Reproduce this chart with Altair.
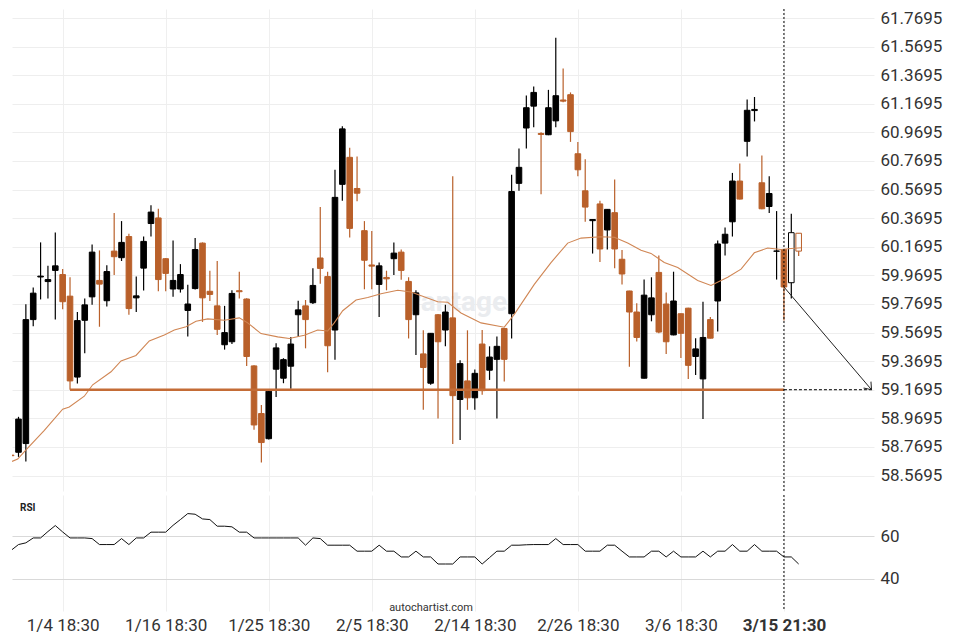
import altair as alt
import pandas as pd

# ---------------- data ----------------
candle_idx = list(range(-1, 107))
opens = [58.712, 58.732, 58.793, 59.660, 59.958, 59.926, 60.004, 59.975, 59.824, 59.258,
         59.655, 59.819, 59.934, 59.792, 60.139, 60.093, 60.241, 59.812, 60.020, 60.332,
         60.371, 60.086, 59.874, 59.874, 59.724, 59.877, 60.195, 59.858, 59.756, 59.484,
         59.505, 59.862, 59.804, 59.336, 59.003, 58.827, 59.313, 59.250, 59.334, 59.694,
         59.756, 59.778, 60.091, 59.961, 59.587, 60.606, 60.795, 60.577, 60.282, 60.042,
         59.906, 59.955, 60.086, 60.132, 59.927, 59.694, 59.420, 59.215, 59.694, 59.587,
         59.672, 59.101, 59.231, 59.113, 59.489, 59.306, 59.382, 59.598, 59.701, 60.613,
         61.000, 61.153, 60.962, 60.953, 61.050, 61.196, 61.233, 60.820, 60.561, 60.352,
         60.469, 60.287, 60.408, 60.082, 59.860, 59.713, 59.250, 59.694, 59.990, 59.769,
         59.553, 59.701, 59.740, 59.402, 59.245, 59.660, 59.790, 60.195, 60.344, 60.629,
         60.907, 61.122, 60.617, 60.451, 60.138, 60.150, 59.918, 60.264]
highs = [58.715, 58.980, 59.767, 59.884, 60.200, 60.036, 60.269, 60.014, 59.956, 59.713,
         59.808, 60.185, 60.144, 60.041, 60.405, 60.349, 60.260, 59.961, 60.241, 60.460,
         60.435, 60.090, 60.214, 60.048, 59.904, 60.230, 60.200, 60.002, 60.070, 59.756,
         59.865, 59.995, 59.810, 59.340, 59.063, 59.162, 59.494, 59.390, 59.539, 59.792,
         59.797, 60.020, 60.447, 59.995, 60.708, 61.012, 60.862, 60.800, 60.349, 60.280,
         60.059, 60.002, 60.200, 60.150, 59.956, 59.865, 59.585, 59.566, 59.700, 59.763,
         60.663, 59.375, 59.585, 59.311, 59.587, 59.473, 59.542, 59.600, 60.674, 60.857,
         61.228, 61.290, 60.971, 61.267, 61.632, 61.416, 61.249, 60.903, 60.782, 60.362,
         60.492, 60.433, 60.640, 60.146, 59.862, 59.774, 59.940, 59.956, 60.109, 59.849,
         59.995, 59.703, 59.742, 59.530, 59.785, 59.678, 60.214, 60.305, 60.686, 60.752,
         61.199, 61.217, 60.807, 60.663, 60.419, 60.152, 60.401, 60.266]
lows = [58.705, 58.700, 58.668, 59.614, 59.801, 59.808, 59.660, 59.733, 59.170, 59.213,
        59.425, 59.763, 59.610, 59.751, 59.972, 60.070, 59.694, 59.713, 59.863, 60.241,
        59.858, 59.858, 59.819, 59.849, 59.542, 59.870, 59.644, 59.790, 59.553, 59.450,
        59.489, 59.808, 59.336, 58.889, 58.661, 58.822, 59.118, 59.215, 59.176, 59.542,
        59.459, 59.769, 59.911, 59.291, 59.380, 60.492, 60.234, 60.488, 59.872, 59.872,
        59.678, 59.865, 59.972, 59.938, 59.528, 59.413, 59.029, 59.204, 58.969, 59.473,
        58.789, 58.817, 59.029, 59.029, 59.135, 59.238, 58.969, 59.227, 59.528, 60.561,
        60.857, 61.005, 60.537, 60.950, 61.005, 61.180, 60.903, 60.663, 60.344, 60.122,
        60.063, 60.150, 60.020, 59.906, 59.330, 59.507, 59.248, 59.648, 59.564, 59.420,
        59.550, 59.391, 59.245, 59.272, 58.964, 59.528, 59.576, 60.109, 60.241, 60.500,
        60.800, 61.046, 60.432, 60.405, 59.940, 59.653, 59.808, 60.104]
closes = [58.708, 58.964, 59.660, 59.845, 59.964, 59.940, 60.036, 59.785, 59.231, 59.653,
          59.763, 60.132, 59.908, 59.996, 60.100, 60.200, 59.737, 59.826, 60.207, 60.412,
          59.940, 59.983, 59.934, 59.975, 59.769, 60.150, 59.812, 59.836, 59.592, 59.569,
          59.843, 59.855, 59.402, 58.923, 58.800, 59.159, 59.462, 59.380, 59.489, 59.728,
          59.660, 59.899, 60.018, 59.477, 60.515, 60.994, 60.298, 60.544, 60.075, 60.034,
          60.036, 59.945, 60.125, 60.004, 59.660, 59.847, 59.325, 59.564, 59.505, 59.713,
          59.128, 59.352, 59.113, 59.284, 59.163, 59.398, 59.473, 59.382, 60.556, 60.725,
          61.142, 61.249, 60.955, 61.142, 61.226, 61.188, 60.975, 60.708, 60.447, 60.360,
          60.154, 60.431, 60.154, 59.979, 59.713, 59.535, 59.831, 59.812, 59.573, 59.505,
          59.790, 59.564, 59.340, 59.455, 59.535, 59.530, 60.189, 60.257, 60.629, 60.503,
          61.124, 61.130, 60.435, 60.542, 60.140, 59.888, 60.268, 60.139]
rsi_vals = [53.4, 56.1, 56.9, 59.2, 59.2, 62.2, 65.0, 62.0, 59.2, 59.2,
            59.2, 58.9, 56.1, 56.1, 56.1, 58.9, 56.1, 59.2, 59.2, 61.9,
            61.9, 61.9, 65.1, 67.8, 70.6, 70.3, 68.1, 67.8, 64.7, 64.7,
            64.4, 61.9, 61.9, 59.2, 59.2, 59.2, 59.2, 59.2, 59.2, 59.2,
            55.8, 59.2, 58.9, 55.8, 55.8, 55.8, 55.8, 53.0, 53.0, 53.0,
            55.8, 53.0, 53.0, 50.3, 50.3, 53.0, 50.3, 50.3, 47.0, 47.0,
            47.0, 50.3, 50.3, 50.3, 47.0, 50.0, 53.0, 53.0, 55.8, 55.8,
            56.0, 56.1, 56.1, 56.1, 58.9, 56.1, 56.1, 56.1, 53.0, 53.0,
            53.0, 55.8, 55.8, 53.0, 50.3, 50.3, 50.3, 53.0, 53.0, 50.3,
            53.0, 50.3, 50.3, 50.3, 53.0, 50.3, 53.0, 53.0, 56.1, 53.0,
            53.0, 56.1, 53.0, 53.0, 53.0, 50.3, 50.3, 47.0]
ma_idx = [-0.88, -0.11, 1.02, 3.51, 6.0, 6.9, 8.94, 10.08, 12.57, 13.93, 15.96, 17.77,
          19.81, 21.17, 22.76, 24.12, 25.71, 27.96, 30.0, 31.14, 32.95, 35.22, 36.79,
          38.83, 40.65, 42.01, 42.9, 44.05, 45.86, 47.45, 49.25, 51.52, 53.33, 56.96,
          58.32, 60.12, 62.84, 66.0, 67.36, 70.08, 72.35, 74.62, 76.43, 79.14, 80.95,
          82.77, 84.58, 85.94, 87.74, 89.57, 92.28, 94.09, 96.36, 98.17, 99.97, 101.79,
          103.6, 104.96, 106.32]
ma_vals = [58.668, 58.684, 58.748, 58.885, 59.033, 59.049, 59.124, 59.204, 59.295, 59.371,
           59.409, 59.511, 59.553, 59.587, 59.610, 59.648, 59.665, 59.655, 59.672, 59.637,
           59.562, 59.539, 59.528, 59.550, 59.587, 59.580, 59.637, 59.722, 59.797, 59.815,
           59.841, 59.865, 59.853, 59.785, 59.781, 59.706, 59.637, 59.607, 59.697, 59.906,
           60.059, 60.195, 60.230, 60.239, 60.236, 60.195, 60.145, 60.123, 60.059, 60.024,
           59.933, 59.899, 59.956, 60.013, 60.127, 60.161, 60.150, 60.157, 60.163]
price_ticks = [58.5695, 58.7695, 58.9695, 59.1695, 59.3695, 59.5695, 59.7695, 59.9695,
               60.1695, 60.3695, 60.5695, 60.7695, 60.9695, 61.1695, 61.3695, 61.5695, 61.7695]
rsi_ticks = [40, 60]
time_idx = [6, 20, 34, 48, 62, 76, 90, 104]
time_labels = ["1/4 18:30", "1/16 18:30", "1/25 18:30", "2/5 18:30",
               "2/14 18:30", "2/26 18:30", "3/6 18:30", "3/15 21:30"]
support_level = 59.1695
support_start = 7
signal_idx = 104
live_from = 105
arrow_from = [104, 59.888]
arrow_to = [115.9, 59.1695]

# ---------------- styling ----------------
ORANGE = "#b9602a"
MA_COLOR = "#d08654"
SUPPORT = "#c46c36"
FONT = "Roboto"
W = 862
H_PRICE = 482
H_RSI = 116

xscale = alt.Scale(domain=[-0.883, 116.236], nice=False, zero=False)
yscale = alt.Scale(domain=[58.4611, 61.8325], nice=False, zero=False)
rscale = alt.Scale(domain=[25.0, 79.3], nice=False, zero=False)

label_expr = " : ".join(f"datum.value == {k} ? '{t}'" for k, t in zip(time_idx, time_labels)) + " : ''"

x_grid_axis = alt.Axis(values=time_idx, tickCount=30, labels=False, ticks=False, domain=False,
                       grid=True, gridColor="#efefef", title=None)
x_label_axis = alt.Axis(values=time_idx, tickCount=30, labelExpr=label_expr, ticks=False,
                        domain=False, grid=True, gridColor="#efefef", title=None,
                        labelFontSize=17, labelColor="#333333", labelPadding=6,
                        labelOverlap=False, labelFont=FONT,
                        labelFontWeight={"condition": {"test": f"datum.value == {signal_idx}",
                                                       "value": "bold"},
                                         "value": "normal"})
price_axis = alt.Axis(orient="right", values=price_ticks, tickCount=40, format=".4f",
                      grid=True, gridColor="#eeeeee", domain=False, ticks=False,
                      labelFontSize=17, labelColor="#333333", labelPadding=6, title=None,
                      labelFont=FONT, labelOverlap=False)
rsi_axis = alt.Axis(orient="right", values=rsi_ticks, tickCount=10, grid=True,
                    gridColor="#d9d9d9", domain=False, ticks=False, labelFontSize=17,
                    labelColor="#333333", labelPadding=6, title=None, labelFont=FONT,
                    labelOverlap=False)

df = pd.DataFrame({"i": candle_idx, "open": opens, "high": highs, "low": lows, "close": closes})
kinds = ["up", "down", "live_up", "live_down"]
stroke_scale = alt.Scale(domain=kinds, range=["#000000", ORANGE, "#000000", ORANGE])
fill_scale = alt.Scale(domain=kinds, range=["#000000", ORANGE, "#ffffff", "#ffffff"])

base = alt.Chart(df).transform_calculate(
    kind=f"datum.i >= {live_from} ? (datum.close >= datum.open ? 'live_up' : 'live_down') : (datum.close >= datum.open ? 'up' : 'down')",
    lo="min(datum.open, datum.close)",
    hi="max(datum.open, datum.close)",
    xl="datum.i - 0.38",
    xr="datum.i + 0.38",
)

wicks = base.mark_rule(strokeWidth=1.2, clip=True).encode(
    x=alt.X("i:Q", scale=xscale, axis=x_grid_axis),
    y=alt.Y("low:Q", scale=yscale, axis=price_axis),
    y2="high:Q",
    color=alt.Color("kind:N", scale=stroke_scale, legend=None),
)
bodies = base.mark_rect(strokeWidth=1, clip=True).encode(
    x=alt.X("xl:Q", scale=xscale, title=None),
    x2="xr:Q",
    y=alt.Y("lo:Q", scale=yscale, title=None),
    y2="hi:Q",
    fill=alt.Fill("kind:N", scale=fill_scale, legend=None),
    stroke=alt.Stroke("kind:N", scale=stroke_scale, legend=None),
)

ma = alt.Chart(pd.DataFrame({"i": ma_idx, "ma": ma_vals})).mark_line(
    color=MA_COLOR, strokeWidth=1.1, clip=True).encode(
    x=alt.X("i:Q", scale=xscale, title=None),
    y=alt.Y("ma:Q", scale=yscale, title=None),
)

lvl = pd.DataFrame({"x0": [support_start], "x1": [signal_idx], "y": [support_level]})
support = alt.Chart(lvl).mark_rule(color=SUPPORT, strokeWidth=2.6).encode(
    x=alt.X("x0:Q", scale=xscale, title=None), x2="x1:Q",
    y=alt.Y("y:Q", scale=yscale, title=None),
)
proj = pd.DataFrame({"x0": [signal_idx], "x1": [arrow_to[0]], "y": [support_level]})
projection = alt.Chart(proj).mark_rule(color="#000000", strokeWidth=1, strokeDash=[3, 2]).encode(
    x=alt.X("x0:Q", scale=xscale, title=None), x2="x1:Q",
    y=alt.Y("y:Q", scale=yscale, title=None),
)
arr = pd.DataFrame({"x0": [arrow_from[0]], "y0": [arrow_from[1]],
                    "x1": [arrow_to[0]], "y1": [arrow_to[1]]})
arrow_line = alt.Chart(arr).mark_rule(color="#222222", strokeWidth=1).encode(
    x=alt.X("x0:Q", scale=xscale, title=None), x2="x1:Q",
    y=alt.Y("y0:Q", scale=yscale, title=None), y2="y1:Q",
)
arrow_head = alt.Chart(arr).mark_point(
    shape="M -1 -0.75 L 0 0 L -1 0.75", filled=False, color="#222222",
    strokeWidth=1, size=170, angle=49, opacity=1).encode(
    x=alt.X("x1:Q", scale=xscale, title=None),
    y=alt.Y("y1:Q", scale=yscale, title=None),
)
vline_df = pd.DataFrame({"i": [signal_idx]})
vline_p = alt.Chart(vline_df).mark_rule(color="#000000", strokeWidth=1, strokeDash=[2, 2]).encode(
    x=alt.X("i:Q", scale=xscale, title=None))

watermark = alt.Chart(pd.DataFrame({"t": ["vantage"]})).mark_text(
    font=FONT, fontSize=28, fontWeight="bold", color="#eaecef", align="center",
    baseline="middle").encode(text="t:N", x=alt.value(445), y=alt.value(294))

price = alt.layer(watermark, wicks, bodies, ma, support, projection, arrow_line,
                  arrow_head, vline_p).properties(width=W, height=H_PRICE)

rsi_df = pd.DataFrame({"i": candle_idx, "rsi": rsi_vals})
rsi_line = alt.Chart(rsi_df).mark_line(color="#111111", strokeWidth=1, clip=True).encode(
    x=alt.X("i:Q", scale=xscale, axis=x_label_axis),
    y=alt.Y("rsi:Q", scale=rscale, axis=rsi_axis),
)
vline_r = alt.Chart(vline_df).mark_rule(color="#000000", strokeWidth=1, strokeDash=[2, 2]).encode(
    x=alt.X("i:Q", scale=xscale, title=None))
rsi_title = alt.Chart(pd.DataFrame({"t": ["RSI"]})).mark_text(
    font=FONT, fontSize=10, fontWeight="bold", color="#222222", align="left",
    baseline="middle").encode(text="t:N", x=alt.value(8), y=alt.value(13))
credit = alt.Chart(pd.DataFrame({"t": ["autochartist.com"]})).mark_text(
    font=FONT, fontSize=11, color="#333333", align="center",
    baseline="middle").encode(text="t:N", x=alt.value(419), y=alt.value(113))

rsi = alt.layer(rsi_line, vline_r, rsi_title, credit).properties(width=W, height=H_RSI)

chart = alt.vconcat(price, rsi, spacing=2).properties(
    padding={"left": 3, "top": 0, "right": 5, "bottom": 5}
).configure(font=FONT).configure_view(stroke="transparent")

chart.save("out.html", embed_options={"renderer": "svg", "actions": False})
